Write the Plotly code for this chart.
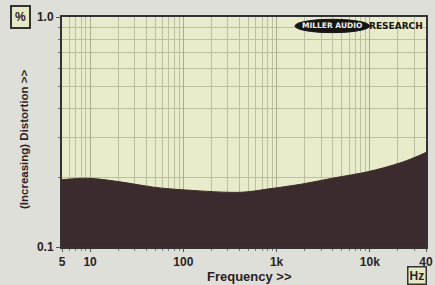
import numpy as np
import plotly.graph_objects as go

# Data
freq_hz = [5, 9.4, 21, 48, 106, 420, 830, 1900, 4200, 9300, 21000, 37000, 40000]
distortion_pct = [0.196, 0.199, 0.192, 0.182, 0.177, 0.173, 0.179, 0.188, 0.200, 0.212, 0.232, 0.254, 0.258]

x_tick_vals = [5, 10, 100, 1000, 10000, 40000]
x_tick_text = ["5", "10", "100", "1k", "10k", "40"]
y_tick_vals = [0.1, 1.0]
y_tick_text = ["0.1", "1.0"]
x_range = [5, 40000]
y_range = [0.1, 1.0]

x_minor = [m * 10 ** d for d in range(0, 5) for m in range(2, 10) if x_range[0] < m * 10 ** d < x_range[1]]
y_minor = [m / 10 for m in range(2, 10)]

font_family = "Liberation Sans, Arial, sans-serif"
dark = "#2a2224"
fill_col = "#3b2a2e"
grid_col = "#bcc0a0"

fig = go.Figure()
fig.add_trace(go.Scatter(x=freq_hz, y=[y_range[0]] * len(freq_hz), mode="lines",
                         line=dict(width=0, color=fill_col), hoverinfo="skip", showlegend=False))
fig.add_trace(go.Scatter(x=freq_hz, y=distortion_pct, mode="lines", fill="tonexty",
                         fillcolor=fill_col, line=dict(color=fill_col, width=1, shape="spline"),
                         showlegend=False))

fig.update_layout(
    width=435, height=285,
    margin=dict(l=62, r=2, t=17, b=38),
    paper_bgcolor="#dfdfd9",
    plot_bgcolor="#e9ecca",
    font=dict(family=font_family, color=dark, size=12, weight="bold"),
)
fig.update_xaxes(
    type="log", range=[np.log10(x_range[0]), np.log10(x_range[1])],
    tickmode="array", tickvals=x_tick_vals, ticktext=x_tick_text,
    ticks="outside", ticklen=3, tickcolor="#555", ticklabeloverflow="allow",
    showgrid=True, gridcolor="#a9ad90", gridwidth=1,
    minor=dict(tickvals=x_minor, ticks="outside", ticklen=2, tickcolor="#777",
               showgrid=True, gridcolor=grid_col, gridwidth=1),
    showline=True, linecolor="#333", linewidth=2, mirror=True,
    tickfont=dict(size=12, family=font_family, weight="bold"),
    zeroline=False,
)
fig.update_yaxes(
    type="log", range=[np.log10(y_range[0]), np.log10(y_range[1])],
    tickmode="array", tickvals=y_tick_vals, ticktext=y_tick_text,
    ticks="outside", ticklen=4, tickcolor="#555", automargin=False,
    showgrid=False,
    minor=dict(tickvals=y_minor, ticks="outside", ticklen=2, tickcolor="#777",
               showgrid=True, gridcolor=grid_col, gridwidth=1),
    showline=True, linecolor="#333", linewidth=2, mirror=True,
    tickfont=dict(size=12, family=font_family, weight="bold"),
    zeroline=False,
)

fig.add_annotation(text="Frequency >>", xref="paper", yref="paper", x=0.515, y=-0.13,
                   xanchor="center", yanchor="middle", showarrow=False,
                   font=dict(size=13, family=font_family, weight="bold", color=dark))
fig.add_annotation(text="(Increasing) Distortion >>", xref="paper", yref="paper", x=-0.104, y=0.47,
                   textangle=-90, xanchor="center", yanchor="middle", showarrow=False,
                   font=dict(size=11.5, family=font_family, weight="bold", color=dark))
fig.add_annotation(text="%", xref="paper", yref="paper", x=-0.113, y=1.0,
                   xanchor="center", yanchor="middle", showarrow=False,
                   bordercolor="#333", borderwidth=2, borderpad=3, bgcolor="#e6e8c4",
                   font=dict(size=12, family=font_family, weight="bold", color=dark))
fig.add_annotation(text="Hz", xref="paper", yref="paper", x=1.004, y=-0.122,
                   xanchor="right", yanchor="middle", showarrow=False,
                   bordercolor="#333", borderwidth=1.5, borderpad=1, bgcolor="#e6e8c4",
                   font=dict(size=12, family=font_family, weight="bold", color=dark))
# Logo
fig.add_shape(type="circle", xref="paper", yref="paper", x0=0.640, x1=0.845, y0=0.932, y1=0.99,
              fillcolor="#151515", line=dict(color="#151515", width=1))
fig.add_annotation(text="MILLER AUDIO", xref="paper", yref="paper", x=0.742, y=0.961,
                   xanchor="center", yanchor="middle", showarrow=False,
                   font=dict(size=7.5, family="DejaVu Sans, sans-serif", weight="bold", color="#f0f0f0"))
fig.add_annotation(text="RESEARCH", xref="paper", yref="paper", x=0.838, y=0.963,
                   xanchor="left", yanchor="middle", showarrow=False,
                   font=dict(size=9, family="DejaVu Sans, sans-serif", weight="bold", color="#151515"))

fig.write_html("out.html", config={"displayModeBar": False},
               post_script="document.body.style.margin='0';document.body.style.padding='0';")
